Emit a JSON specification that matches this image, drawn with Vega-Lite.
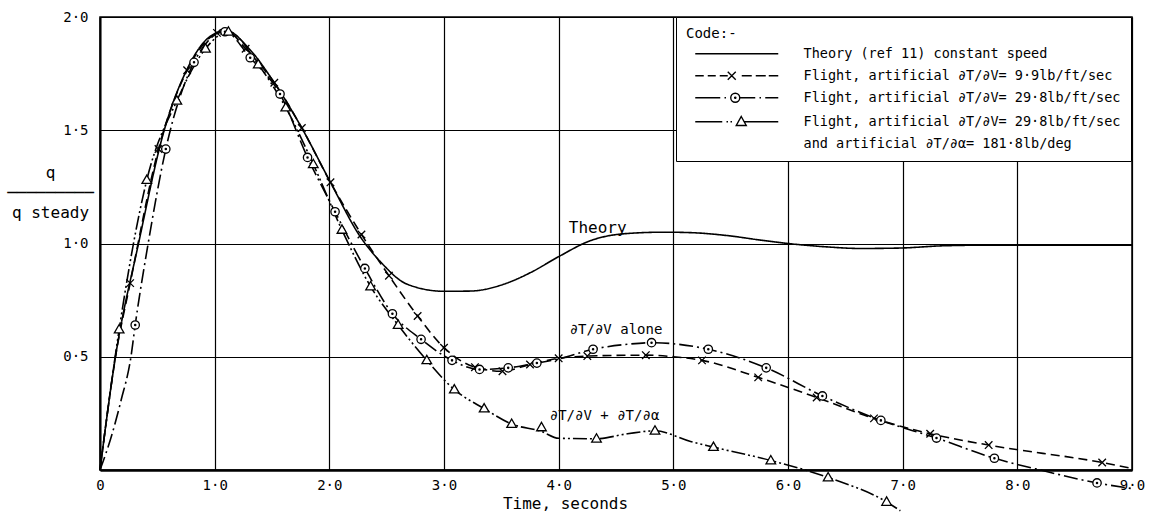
{
  "$schema": "https://vega.github.io/schema/vega-lite/v6.json",
  "width": 1032,
  "height": 453,
  "autosize": {"type": "none"},
  "padding": {"left": 100, "top": 17, "right": 25, "bottom": 48},
  "background": "white",
  "config": {
    "font": "DejaVu Sans Mono",
    "view": {"stroke": "black", "strokeWidth": 1.5},
    "axis": {
      "gridColor": "black", "gridOpacity": 1, "gridWidth": 1.2,
      "domainColor": "black", "ticks": false,
      "labelColor": "black", "titleColor": "black",
      "labelFontSize": 14, "titleFontWeight": "normal",
      "labelFlush": false, "labelOverlap": false, "labelBound": false
    }
  },
  "datasets": {
    "curves": [
      {"s": "A", "t": 0, "q": 0}, {"s": "A", "t": 0.135, "q": 0.5}, {"s": "A", "t": 0.336, "q": 1.0}, {"s": "A", "t": 0.56, "q": 1.5},
      {"s": "A", "t": 0.76, "q": 1.77}, {"s": "A", "t": 0.95, "q": 1.91}, {"s": "A", "t": 1.1, "q": 1.94}, {"s": "A", "t": 1.3, "q": 1.86},
      {"s": "A", "t": 1.52, "q": 1.71}, {"s": "A", "t": 1.76, "q": 1.51}, {"s": "A", "t": 2.01, "q": 1.27}, {"s": "A", "t": 2.27, "q": 1.03},
      {"s": "A", "t": 2.45, "q": 0.917}, {"s": "A", "t": 2.68, "q": 0.82}, {"s": "A", "t": 3.0, "q": 0.789}, {"s": "A", "t": 3.23, "q": 0.79},
      {"s": "A", "t": 3.52, "q": 0.82}, {"s": "A", "t": 3.76, "q": 0.873}, {"s": "A", "t": 4.0, "q": 0.942}, {"s": "A", "t": 4.28, "q": 1.013},
      {"s": "A", "t": 4.57, "q": 1.043}, {"s": "A", "t": 4.92, "q": 1.05}, {"s": "A", "t": 5.15, "q": 1.048}, {"s": "A", "t": 5.47, "q": 1.035},
      {"s": "A", "t": 5.76, "q": 1.015}, {"s": "A", "t": 6.0, "q": 1.0}, {"s": "A", "t": 6.34, "q": 0.985}, {"s": "A", "t": 6.63, "q": 0.978},
      {"s": "A", "t": 6.98, "q": 0.98}, {"s": "A", "t": 7.36, "q": 0.99}, {"s": "A", "t": 7.8, "q": 0.993}, {"s": "A", "t": 9.0, "q": 0.993},

      {"s": "B", "t": 0, "q": 0}, {"s": "B", "t": 0.135, "q": 0.5}, {"s": "B", "t": 0.263, "q": 0.825}, {"s": "B", "t": 0.51, "q": 1.417},
      {"s": "B", "t": 0.76, "q": 1.765}, {"s": "B", "t": 1.02, "q": 1.93}, {"s": "B", "t": 1.1, "q": 1.94}, {"s": "B", "t": 1.27, "q": 1.86},
      {"s": "B", "t": 1.52, "q": 1.71}, {"s": "B", "t": 1.76, "q": 1.51}, {"s": "B", "t": 2.01, "q": 1.27}, {"s": "B", "t": 2.28, "q": 1.04},
      {"s": "B", "t": 2.52, "q": 0.858}, {"s": "B", "t": 2.77, "q": 0.68}, {"s": "B", "t": 3.0, "q": 0.54}, {"s": "B", "t": 3.27, "q": 0.454},
      {"s": "B", "t": 3.51, "q": 0.436}, {"s": "B", "t": 3.75, "q": 0.466}, {"s": "B", "t": 4.0, "q": 0.493}, {"s": "B", "t": 4.25, "q": 0.503},
      {"s": "B", "t": 4.76, "q": 0.507}, {"s": "B", "t": 5.0, "q": 0.5}, {"s": "B", "t": 5.25, "q": 0.484}, {"s": "B", "t": 5.74, "q": 0.409},
      {"s": "B", "t": 6.25, "q": 0.32}, {"s": "B", "t": 6.75, "q": 0.228}, {"s": "B", "t": 7.24, "q": 0.16}, {"s": "B", "t": 7.75, "q": 0.11},
      {"s": "B", "t": 8.74, "q": 0.033}, {"s": "B", "t": 9.0, "q": 0.007},

      {"s": "C", "t": 0, "q": 0}, {"s": "C", "t": 0.106, "q": 0.16}, {"s": "C", "t": 0.185, "q": 0.31}, {"s": "C", "t": 0.27, "q": 0.5},
      {"s": "C", "t": 0.307, "q": 0.64}, {"s": "C", "t": 0.42, "q": 1.0}, {"s": "C", "t": 0.574, "q": 1.417}, {"s": "C", "t": 0.82, "q": 1.8},
      {"s": "C", "t": 1.09, "q": 1.935}, {"s": "C", "t": 1.31, "q": 1.82}, {"s": "C", "t": 1.57, "q": 1.66}, {"s": "C", "t": 1.81, "q": 1.38},
      {"s": "C", "t": 2.05, "q": 1.14}, {"s": "C", "t": 2.31, "q": 0.89}, {"s": "C", "t": 2.55, "q": 0.69}, {"s": "C", "t": 2.8, "q": 0.577},
      {"s": "C", "t": 3.07, "q": 0.484}, {"s": "C", "t": 3.31, "q": 0.444}, {"s": "C", "t": 3.56, "q": 0.451}, {"s": "C", "t": 3.81, "q": 0.472},
      {"s": "C", "t": 4.0, "q": 0.49}, {"s": "C", "t": 4.3, "q": 0.533}, {"s": "C", "t": 4.6, "q": 0.555}, {"s": "C", "t": 4.81, "q": 0.562},
      {"s": "C", "t": 5.305, "q": 0.533}, {"s": "C", "t": 5.81, "q": 0.451}, {"s": "C", "t": 6.3, "q": 0.327}, {"s": "C", "t": 6.81, "q": 0.219},
      {"s": "C", "t": 7.295, "q": 0.141}, {"s": "C", "t": 7.8, "q": 0.052}, {"s": "C", "t": 8.2, "q": 0.0}, {"s": "C", "t": 8.695, "q": -0.057},
      {"s": "C", "t": 9.0, "q": -0.082},

      {"s": "D", "t": 0, "q": 0}, {"s": "D", "t": 0.167, "q": 0.62}, {"s": "D", "t": 0.408, "q": 1.28}, {"s": "D", "t": 0.67, "q": 1.63},
      {"s": "D", "t": 0.92, "q": 1.86}, {"s": "D", "t": 1.12, "q": 1.935}, {"s": "D", "t": 1.38, "q": 1.79}, {"s": "D", "t": 1.62, "q": 1.6},
      {"s": "D", "t": 1.86, "q": 1.35}, {"s": "D", "t": 2.11, "q": 1.06}, {"s": "D", "t": 2.36, "q": 0.81}, {"s": "D", "t": 2.6, "q": 0.64},
      {"s": "D", "t": 2.85, "q": 0.484}, {"s": "D", "t": 3.09, "q": 0.355}, {"s": "D", "t": 3.35, "q": 0.271}, {"s": "D", "t": 3.59, "q": 0.203},
      {"s": "D", "t": 3.85, "q": 0.17}, {"s": "D", "t": 4.0, "q": 0.14}, {"s": "D", "t": 4.33, "q": 0.138}, {"s": "D", "t": 4.6, "q": 0.16},
      {"s": "D", "t": 4.84, "q": 0.173}, {"s": "D", "t": 5.15, "q": 0.126}, {"s": "D", "t": 5.35, "q": 0.101}, {"s": "D", "t": 5.85, "q": 0.042},
      {"s": "D", "t": 6.35, "q": -0.033}, {"s": "D", "t": 6.86, "q": -0.141}, {"s": "D", "t": 6.98, "q": -0.18}
    ],
    "markers": [
      {"s": "B", "t": 0.263, "q": 0.825}, {"s": "B", "t": 0.51, "q": 1.417}, {"s": "B", "t": 0.76, "q": 1.765}, {"s": "B", "t": 1.02, "q": 1.93},
      {"s": "B", "t": 1.27, "q": 1.86}, {"s": "B", "t": 1.52, "q": 1.71}, {"s": "B", "t": 1.76, "q": 1.51}, {"s": "B", "t": 2.01, "q": 1.27},
      {"s": "B", "t": 2.28, "q": 1.04}, {"s": "B", "t": 2.52, "q": 0.858}, {"s": "B", "t": 2.77, "q": 0.68}, {"s": "B", "t": 3.0, "q": 0.54},
      {"s": "B", "t": 3.27, "q": 0.454}, {"s": "B", "t": 3.51, "q": 0.436}, {"s": "B", "t": 3.75, "q": 0.466}, {"s": "B", "t": 4.0, "q": 0.493},
      {"s": "B", "t": 4.25, "q": 0.503}, {"s": "B", "t": 4.76, "q": 0.507}, {"s": "B", "t": 5.25, "q": 0.484}, {"s": "B", "t": 5.74, "q": 0.409},
      {"s": "B", "t": 6.25, "q": 0.32}, {"s": "B", "t": 6.75, "q": 0.228}, {"s": "B", "t": 7.24, "q": 0.16}, {"s": "B", "t": 7.75, "q": 0.11},
      {"s": "B", "t": 8.74, "q": 0.033},

      {"s": "C", "t": 0.307, "q": 0.64}, {"s": "C", "t": 0.574, "q": 1.417}, {"s": "C", "t": 0.82, "q": 1.8}, {"s": "C", "t": 1.09, "q": 1.935},
      {"s": "C", "t": 1.31, "q": 1.82}, {"s": "C", "t": 1.57, "q": 1.66}, {"s": "C", "t": 1.81, "q": 1.38}, {"s": "C", "t": 2.05, "q": 1.14},
      {"s": "C", "t": 2.31, "q": 0.89}, {"s": "C", "t": 2.55, "q": 0.69}, {"s": "C", "t": 2.8, "q": 0.577}, {"s": "C", "t": 3.07, "q": 0.484},
      {"s": "C", "t": 3.31, "q": 0.444}, {"s": "C", "t": 3.56, "q": 0.451}, {"s": "C", "t": 3.81, "q": 0.472}, {"s": "C", "t": 4.3, "q": 0.533},
      {"s": "C", "t": 4.81, "q": 0.562}, {"s": "C", "t": 5.305, "q": 0.533}, {"s": "C", "t": 5.81, "q": 0.451}, {"s": "C", "t": 6.3, "q": 0.327},
      {"s": "C", "t": 6.81, "q": 0.219}, {"s": "C", "t": 7.295, "q": 0.141}, {"s": "C", "t": 7.8, "q": 0.052}, {"s": "C", "t": 8.695, "q": -0.057},

      {"s": "D", "t": 0.167, "q": 0.62}, {"s": "D", "t": 0.408, "q": 1.28}, {"s": "D", "t": 0.67, "q": 1.63}, {"s": "D", "t": 0.92, "q": 1.86},
      {"s": "D", "t": 1.12, "q": 1.935}, {"s": "D", "t": 1.38, "q": 1.79}, {"s": "D", "t": 1.62, "q": 1.6}, {"s": "D", "t": 1.86, "q": 1.35},
      {"s": "D", "t": 2.11, "q": 1.06}, {"s": "D", "t": 2.36, "q": 0.81}, {"s": "D", "t": 2.6, "q": 0.64}, {"s": "D", "t": 2.85, "q": 0.484},
      {"s": "D", "t": 3.09, "q": 0.355}, {"s": "D", "t": 3.35, "q": 0.271}, {"s": "D", "t": 3.59, "q": 0.203}, {"s": "D", "t": 3.85, "q": 0.188},
      {"s": "D", "t": 4.33, "q": 0.138}, {"s": "D", "t": 4.84, "q": 0.173}, {"s": "D", "t": 5.35, "q": 0.101}, {"s": "D", "t": 5.85, "q": 0.042},
      {"s": "D", "t": 6.35, "q": -0.033}, {"s": "D", "t": 6.86, "q": -0.141}
    ],
    "notes": [
      {"t": 4.34, "q": 1.068, "label": "Theory", "size": "big"},
      {"t": 4.5, "q": 0.62, "label": "∂T/∂V alone", "size": "small"},
      {"t": 4.4, "q": 0.237, "label": "∂T/∂V + ∂T/∂α", "size": "small"}
    ]
  },
  "layer": [
    {
      "data": {"name": "curves"},
      "mark": {"type": "line", "color": "black", "strokeWidth": 1.6, "interpolate": "monotone"},
      "encoding": {
        "x": {
          "field": "t", "type": "quantitative",
          "scale": {"domain": [0, 9], "nice": false, "zero": false},
          "axis": {
            "values": [0, 1, 2, 3, 4, 5, 6, 7, 8, 9],
            "labelExpr": "datum.value == 0 ? '0' : replace(format(datum.value, '.1f'), '.', '·')",
            "labelPadding": 8, "domainWidth": 2.5, "grid": true,
            "title": "Time, seconds", "titleFontSize": 16,
            "titleX": 465, "titleY": 33, "titleAlign": "center", "titleBaseline": "middle"
          }
        },
        "y": {
          "field": "q", "type": "quantitative",
          "scale": {"domain": [0, 2], "nice": false, "zero": false},
          "axis": {
            "values": [0.5, 1, 1.5, 2],
            "labelExpr": "replace(format(datum.value, '.1f'), '.', '·')",
            "labelPadding": 12, "domainWidth": 2, "grid": true,
            "title": ["q", "─────────", "q steady"],
            "titleAngle": 0, "titleAlign": "center", "titleBaseline": "middle",
            "titleX": -50, "titleY": 155, "titleFontSize": 16, "titleLineHeight": 20
          }
        },
        "strokeDash": {
          "field": "s", "type": "nominal",
          "scale": {"domain": ["A", "B", "C", "D"], "range": [[1, 0], [9, 5], [14, 4, 2, 4], [14, 3, 2, 3, 2, 3]]},
          "legend": null
        }
      }
    },
    {
      "data": {"name": "markers"},
      "mark": {"type": "point", "filled": true, "fill": "white", "stroke": "black", "strokeWidth": 1.3, "size": 70, "opacity": 1},
      "encoding": {
        "x": {"field": "t", "type": "quantitative"},
        "y": {"field": "q", "type": "quantitative"},
        "shape": {
          "field": "s", "type": "nominal",
          "scale": {
            "domain": ["B", "C", "D"],
            "range": [
              "M-0.9,-0.9L0.9,0.9M-0.9,0.9L0.9,-0.9",
              "M-1,0A1,1 0 1,0 1,0A1,1 0 1,0 -1,0M-0.15,0A0.15,0.15 0 1,0 0.15,0A0.15,0.15 0 1,0 -0.15,0",
              "M0,-1.2L1.15,0.8L-1.15,0.8Z"
            ]
          },
          "legend": null
        }
      }
    },
    {
      "data": {"name": "markers"},
      "mark": {"type": "point", "filled": false, "color": "black", "opacity": 0, "size": 100},
      "encoding": {
        "x": {"field": "t", "type": "quantitative"},
        "y": {"field": "q", "type": "quantitative"},
        "shape": {
          "field": "s", "type": "nominal",
          "scale": {
            "domain": ["A", "B", "C", "D", "E"],
            "range": [
              "M-8.3,0H8.3",
              "M-8.3,0H-6.6M-5.8,0H-4.2M-3.4,0H-1.8M-1.8,-0.8L-0.2,0.8M-1.8,0.8L-0.2,-0.8M1,0H3M3.8,0H5.8M6.4,0H8.3",
              "M-8.3,0H-3.3M-2.45,0H-2.15M-1.2,0A0.9,0.9 0 1,0 0.6,0A0.9,0.9 0 1,0 -1.2,0M-0.42,0A0.12,0.12 0 1,0 -0.18,0A0.12,0.12 0 1,0 -0.42,0M0.6,0H3.7M4.55,0H4.85M5.7,0H8.3",
              "M-8.3,0H-2.9M-2.05,0H-1.75M-1.25,0H-0.95M0.9,-1.05L1.9,0.75L-0.1,0.75ZM1.48,0H8.3",
              "M0,0"
            ]
          },
          "legend": {
            "title": "Code:-",
            "orient": "none", "legendX": 576, "legendY": 0,
            "direction": "vertical",
            "fillColor": "white", "strokeColor": "black",
            "padding": 10,
            "symbolSize": 100, "symbolStrokeWidth": 1.4, "symbolStrokeColor": "black", "symbolFillColor": "transparent", "symbolOpacity": 1,
            "symbolOffset": 44, "labelOffset": 60,
            "labelFont": "DejaVu Sans Mono", "labelFontSize": 13.5, "labelLimit": 500, "labelColor": "black",
            "titleFont": "DejaVu Sans Mono", "titleFontSize": 14, "titleFontWeight": "normal", "titleColor": "black", "titlePadding": 6,
            "rowPadding": 7,
            "labelExpr": "datum.label == 'A' ? 'Theory (ref 11) constant speed' : datum.label == 'B' ? 'Flight, artificial ∂T/∂V= 9·9lb/ft/sec' : datum.label == 'C' ? 'Flight, artificial ∂T/∂V= 29·8lb/ft/sec' : datum.label == 'D' ? 'Flight, artificial ∂T/∂V= 29·8lb/ft/sec' : 'and artificial ∂T/∂α= 181·8lb/deg'"
          }
        }
      }
    },
    {
      "data": {"name": "notes"},
      "mark": {"type": "text", "color": "black", "align": "center", "baseline": "middle"},
      "encoding": {
        "x": {"field": "t", "type": "quantitative"},
        "y": {"field": "q", "type": "quantitative"},
        "text": {"field": "label"},
        "size": {"field": "size", "type": "nominal", "scale": {"domain": ["big", "small"], "range": [16, 14]}, "legend": null}
      }
    }
  ],
  "resolve": {"scale": {"shape": "independent"}, "legend": {"shape": "independent"}}
}
